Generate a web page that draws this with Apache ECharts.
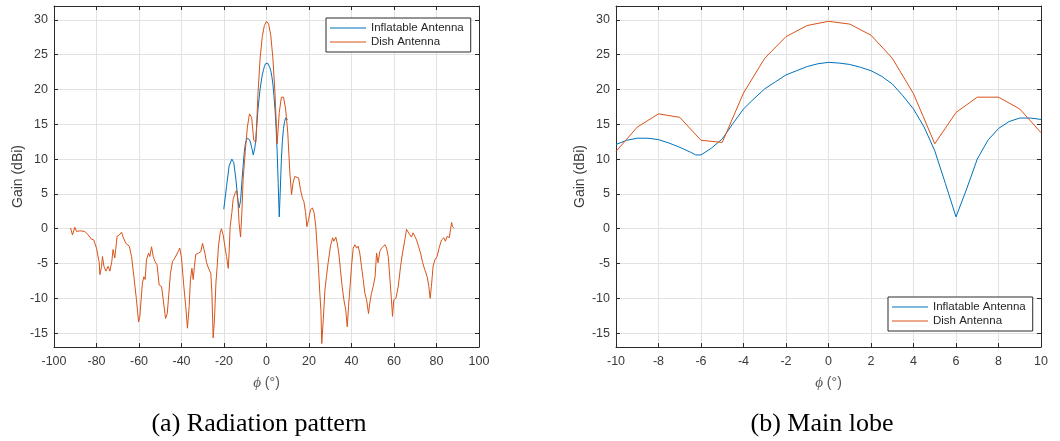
<!DOCTYPE html>
<html>
<head>
<meta charset="utf-8">
<title>Radiation pattern and main lobe</title>
<script src="https://cdn.jsdelivr.net/npm/echarts@6/dist/echarts.min.js"></script>
<style>
  html, body { margin: 0; padding: 0; background: #ffffff; }
  #chart { width: 1060px; height: 441px; }
</style>
</head>
<body>
<div id="chart"></div>
<script>
// ---- measured data: [phi (deg), gain (dBi)] ----

// Dish antenna, side lobes below -10 deg
const dishSideNeg = [
  [-92.2, 0.1], [-91.3, -0.9], [-90.2, 0.2], [-89.4, -0.4], [-87.8, -0.3], [-85.5, -0.4],
  [-83.9, -0.9], [-82.4, -1.5], [-81.3, -1.6], [-80.0, -2.8], [-78.7, -4.9], [-78.4, -6.6],
  [-77.6, -5.4], [-77.2, -4.0], [-76.5, -5.4], [-75.6, -6.1], [-74.5, -5.4], [-73.7, -6.1],
  [-72.8, -4.7], [-72.2, -3.0], [-71.4, -4.2], [-70.9, -2.8], [-70.3, -1.1], [-69.3, -0.9],
  [-68.2, -0.5], [-67.5, -1.2], [-66.2, -2.1], [-64.6, -2.5], [-63.5, -4.0], [-62.4, -6.9],
  [-61.2, -10.2], [-60.2, -13.4], [-59.6, -12.6], [-58.4, -7.8], [-57.7, -6.9], [-57.1, -7.3],
  [-56.5, -4.5], [-55.5, -3.5], [-54.9, -4.0], [-54.1, -2.6], [-53.3, -4.0], [-52.5, -4.7],
  [-51.5, -5.2], [-50.5, -8.1], [-49.4, -8.3], [-48.6, -10.2], [-47.5, -12.9], [-46.7, -12.2],
  [-46.0, -9.5], [-45.2, -6.4], [-44.2, -4.7], [-43.1, -4.2], [-41.6, -3.3], [-40.8, -2.8],
  [-40.0, -4.2], [-38.9, -8.3], [-38.0, -11.2], [-37.2, -14.3], [-36.4, -11.2], [-35.8, -7.3],
  [-35.1, -5.7], [-34.5, -7.3], [-33.9, -5.4], [-33.3, -3.7], [-32.0, -3.5], [-30.9, -3.3],
  [-30.1, -2.1], [-29.0, -3.5], [-28.2, -4.9], [-27.0, -5.9], [-26.2, -6.4], [-25.7, -9.2],
  [-25.1, -15.7], [-24.5, -13.1], [-23.8, -7.8], [-23.2, -5.4], [-22.6, -2.5], [-21.8, -0.6],
  [-21.2, 0.0], [-20.4, -0.9], [-19.6, -2.5], [-18.8, -4.0], [-18.0, -5.7], [-17.6, -3.5],
  [-17.1, 0.3], [-16.3, 2.3], [-15.7, 4.2], [-14.7, 5.2], [-14.1, 5.5], [-13.5, 4.2],
  [-12.9, 0.8], [-12.2, -1.2], [-11.6, 2.3], [-11.0, 7.1]
];

// Dish antenna, main lobe (-10 .. 10 deg, 1 deg steps)
const dishMainLobe = [
  [-10, 11.1], [-9, 14.6], [-8, 16.5], [-7, 16.0], [-6, 12.7], [-5, 12.4], [-4, 19.5],
  [-3, 24.5], [-2, 27.6], [-1, 29.2], [0, 29.8], [1, 29.4], [2, 27.8], [3, 24.5],
  [4, 19.4], [5, 12.2], [6, 16.7], [7, 18.9], [8, 18.9], [9, 17.2], [10, 13.8]
];

// Dish antenna, side lobes above 10 deg
const dishSidePos = [
  [11.0, 8.0], [11.8, 4.9], [12.5, 6.6], [13.3, 7.5], [14.1, 7.6], [15.1, 7.3], [16.0, 5.6],
  [16.9, 4.4], [17.6, 3.9], [18.4, 2.3], [19.0, 0.3], [19.8, 1.3], [20.7, 2.7], [21.6, 3.0],
  [22.4, 2.3], [23.2, 0.3], [23.8, -2.5], [24.5, -5.9], [25.1, -9.3], [25.6, -11.7],
  [26.0, -16.5], [26.7, -13.1], [27.5, -8.8], [28.2, -6.9], [29.0, -4.9], [30.1, -2.5],
  [31.1, -1.3], [31.7, -1.8], [32.6, -1.2], [33.3, -2.1], [34.0, -3.5], [34.8, -5.9],
  [35.6, -8.3], [36.4, -10.2], [37.3, -11.7], [38.0, -14.1], [38.6, -11.2], [39.2, -8.8],
  [40.0, -5.4], [40.8, -2.8], [41.6, -2.3], [42.4, -2.8], [43.1, -2.5], [43.9, -3.5],
  [44.7, -5.4], [45.5, -7.3], [46.3, -9.3], [47.1, -10.2], [48.0, -12.2], [48.6, -10.7],
  [49.4, -9.3], [50.2, -8.3], [51.1, -6.9], [51.8, -3.5], [52.5, -4.9], [53.3, -3.3],
  [54.1, -2.8], [54.9, -3.0], [55.8, -2.3], [56.5, -2.8], [57.3, -4.0], [58.0, -6.9],
  [58.8, -10.2], [59.3, -12.6], [59.9, -10.2], [60.9, -10.0], [62.0, -8.3], [63.1, -5.4],
  [64.0, -3.5], [65.1, -1.6], [65.9, -0.1], [66.8, 0.1], [67.5, -0.9], [68.2, -1.2],
  [69.0, -0.6], [69.8, -1.1], [70.6, -1.6], [71.5, -2.5], [72.5, -3.5], [73.5, -4.9],
  [74.5, -5.9], [75.6, -6.9], [76.4, -8.3], [77.0, -10.0], [77.6, -8.3], [78.4, -5.4],
  [79.2, -4.5], [80.3, -4.0], [81.2, -2.8], [82.4, -1.6], [83.4, -1.3], [84.2, -1.8],
  [85.0, -1.1], [86.0, -1.3], [86.6, -0.1], [87.1, 0.9], [87.5, 0.3], [88.2, 0.1]
];

// Inflatable antenna, first side lobe (-20 .. -10 deg)
const inflatableSide = [
  [-20.1, 2.8], [-18.8, 6.1], [-17.6, 9.0], [-16.3, 10.0], [-15.4, 9.5], [-14.4, 7.1],
  [-13.5, 4.2], [-12.9, 3.0], [-12.2, 4.0], [-11.5, 7.1], [-10.5, 10.9]
];

// Inflatable antenna, main lobe (-10 .. 10 deg, 0.5 deg steps)
const inflatableMainLobe = [
  [-10, 12.1], [-9.5, 12.7], [-9, 13.0], [-8.5, 13.0], [-8, 12.8], [-7.5, 12.3], [-7, 11.7],
  [-6.5, 11.0], [-6.25, 10.6], [-6, 10.6], [-5.5, 11.6], [-5, 12.9], [-4.5, 15.1], [-4, 17.2],
  [-3.5, 18.7], [-3, 20.1], [-2.5, 21.1], [-2, 22.1], [-1.5, 22.7], [-1, 23.3], [-0.5, 23.7],
  [0, 23.9], [0.5, 23.8], [1, 23.6], [1.5, 23.2], [2, 22.7], [2.5, 21.9], [3, 20.8],
  [3.5, 19.1], [4, 17.2], [4.5, 14.6], [5, 11.2], [5.5, 6.5], [6, 1.7], [6.5, 5.7],
  [7, 10.0], [7.5, 12.7], [8, 14.4], [8.5, 15.4], [9, 15.9], [9.5, 15.9], [10, 15.7]
];

const gainTicks = [-15, -10, -5, 0, 5, 10, 15, 20, 25, 30];
const seriesNames = ['Inflatable Antenna', 'Dish Antenna'];
const captions = ['(a) Radiation pattern', '(b) Main lobe'];

// ---- styling ----
const FONT = '"Liberation Sans", Arial, Helvetica, sans-serif';
const BLUE = '#0072BD';
const ORANGE = '#D95319';
const AXIS = '#2b2b2b';
const TEXT = '#3a3a3a';
const GRID = '#e2e2e2';
// plain line used as the legend key (a 36 x 1 bar)
const LEGEND_LINE = 'path://M0,0 H36 V1 H0 Z';

const chart = echarts.init(document.getElementById('chart'), null, { renderer: 'canvas' });

function xAxes(gridIndex, min, max, interval) {
  const line = { show: true, onZero: false, lineStyle: { color: AXIS, width: 1 } };
  const tick = { show: true, inside: true, length: 4, lineStyle: { color: AXIS, width: 1 } };
  return [
    {
      type: 'value', gridIndex, position: 'bottom', min, max, interval,
      axisLine: line, axisTick: tick,
      axisLabel: { color: TEXT, fontFamily: FONT, fontSize: 12.5, margin: 8 },
      splitLine: { show: true, lineStyle: { color: GRID, width: 1 } },
      name: '{i|ϕ} (°)', nameLocation: 'middle', nameGap: 29,
      nameTextStyle: {
        color: '#555555', fontFamily: FONT, fontSize: 14,
        rich: { i: { fontStyle: 'italic', fontFamily: '"Liberation Serif", serif', fontSize: 15, color: '#555555' } }
      }
    },
    {
      type: 'value', gridIndex, position: 'top', min, max, interval,
      axisLine: line, axisTick: tick, axisLabel: { show: false }, splitLine: { show: false }
    }
  ];
}

function yAxes(gridIndex) {
  const line = { show: true, onZero: false, lineStyle: { color: AXIS, width: 1 } };
  const tick = { show: true, inside: true, length: 4, customValues: gainTicks, lineStyle: { color: AXIS, width: 1 } };
  return [
    {
      type: 'value', gridIndex, position: 'left', min: -17, max: 32,
      axisLine: line, axisTick: tick,
      axisLabel: { color: TEXT, fontFamily: FONT, fontSize: 12.5, margin: 6, customValues: gainTicks },
      splitLine: { show: true, lineStyle: { color: GRID, width: 1 } },
      name: 'Gain (dBi)', nameLocation: 'middle', nameGap: 29, nameRotate: 90,
      nameTextStyle: { color: TEXT, fontFamily: FONT, fontSize: 14 }
    },
    {
      type: 'value', gridIndex, position: 'right', min: -17, max: 32,
      axisLine: line, axisTick: tick,
      axisLabel: { show: false, customValues: gainTicks }, splitLine: { show: false }
    }
  ];
}

function legendAt(left, top) {
  return {
    left, top, orient: 'vertical',
    data: seriesNames.map(name => ({ name, icon: LEGEND_LINE })),
    itemWidth: 36, itemHeight: 13, itemGap: 2,
    padding: [4, 7, 4, 4],
    backgroundColor: '#ffffff',
    borderColor: AXIS, borderWidth: 1,
    textStyle: { color: '#262626', fontFamily: FONT, fontSize: 11.5 },
    selectedMode: false
  };
}

function lineSeries(name, color, data, xAxisIndex, yAxisIndex) {
  return {
    name, type: 'line', data, xAxisIndex, yAxisIndex,
    symbol: 'none', smooth: false, clip: true, animation: false,
    lineStyle: { color, width: 1 }, itemStyle: { color }
  };
}

const captionFont = '26px "Liberation Serif", "Times New Roman", serif';

const option = {
  backgroundColor: '#ffffff',
  animation: false,
  grid: [
    { left: 54, top: 6, width: 425, height: 341, containLabel: false },
    { left: 616, top: 6, width: 425, height: 341, containLabel: false }
  ],
  xAxis: [].concat(xAxes(0, -100, 100, 20), xAxes(1, -10, 10, 2)),
  yAxis: [].concat(yAxes(0), yAxes(1)),
  legend: [legendAt(326, 18), legendAt(888, 297)],
  series: [
    lineSeries(seriesNames[0], BLUE, inflatableSide.concat(inflatableMainLobe), 0, 0),
    lineSeries(seriesNames[1], ORANGE, dishSideNeg.concat(dishMainLobe, dishSidePos), 0, 0),
    lineSeries(seriesNames[0], BLUE, inflatableMainLobe, 2, 2),
    lineSeries(seriesNames[1], ORANGE, dishMainLobe, 2, 2)
  ],
  graphic: [
    {
      type: 'text', x: 259, y: 424,
      style: { text: captions[0], fill: '#000000', font: captionFont,
               textAlign: 'center', textVerticalAlign: 'middle' }
    },
    {
      type: 'text', x: 822, y: 424,
      style: { text: captions[1], fill: '#000000', font: captionFont,
               textAlign: 'center', textVerticalAlign: 'middle' }
    }
  ]
};

chart.setOption(option);
</script>
</body>
</html>
